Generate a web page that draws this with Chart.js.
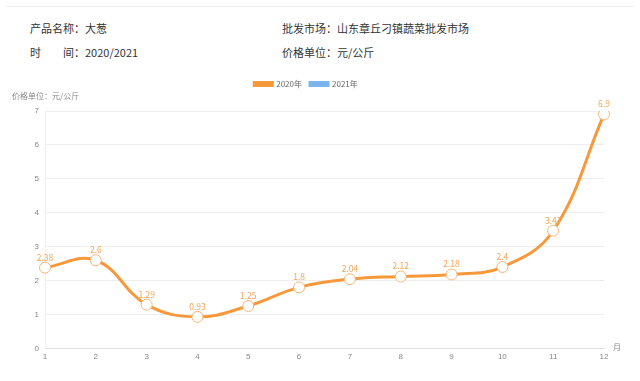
<!DOCTYPE html>
<html>
<head>
<meta charset="utf-8">
<script src="https://cdn.jsdelivr.net/npm/chart.js@4"></script>
<style>
  body { margin: 0; background: #fff; font-family: "Noto Sans CJK SC", "Noto Sans", sans-serif; }
  #page { position: relative; width: 640px; height: 381px; overflow: hidden; }
  .topline { position: absolute; left: 6px; right: 6px; top: 6px; height: 1px; background: #f0f0f0; }
  .info { position: absolute; font-size: 11px; color: #333; }
  #wrap { position: absolute; left: 0; top: 72px; width: 640px; height: 305px; }
</style>
</head>
<body>
<div id="page">
  <div class="topline"></div>
  <div class="info" style="left:30px; top:20px;">产品名称：大葱</div>
  <div class="info" style="left:282px; top:20px;">批发市场：山东章丘刁镇蔬菜批发市场</div>
  <div class="info" style="left:30px; top:44px;">时&emsp;&emsp;间：2020/2021</div>
  <div class="info" style="left:282px; top:44px;">价格单位：元/公斤</div>
  <div id="wrap"><canvas id="priceChart"></canvas></div>
</div>
<script>
const months = ["1", "2", "3", "4", "5", "6", "7", "8", "9", "10", "11", "12"];
const prices2020 = [2.38, 2.6, 1.29, 0.93, 1.25, 1.8, 2.04, 2.12, 2.18, 2.4, 3.47, 6.9];
const prices2021 = [];

// extra room under the legend so the plot starts lower
const legendGap = {
  id: "legendGap",
  beforeInit(chart) {
    const fit = chart.legend.fit;
    chart.legend.fit = function () {
      fit.bind(chart.legend)();
      this.height += 13;
    };
  },
};

// draws the value above each point, plus the axis captions
const extrasPlugin = {
  id: "extras",
  afterDatasetsDraw(chart) {
    const ctx = chart.ctx;
    const meta = chart.getDatasetMeta(0);
    ctx.save();
    ctx.font = "8.5px 'Noto Sans CJK SC', sans-serif";
    ctx.fillStyle = "#f5a455";
    ctx.textAlign = "center";
    ctx.textBaseline = "bottom";
    meta.data.forEach((pt, i) => {
      ctx.fillText(String(prices2020[i]), pt.x, pt.y - 6);
    });
    ctx.font = "8px 'Noto Sans CJK SC', sans-serif";
    ctx.fillStyle = "#888";
    ctx.textAlign = "left";
    ctx.textBaseline = "middle";
    ctx.fillText("价格单位：元/公斤", 12, 24);
    ctx.fillText("月", 613, chart.chartArea.bottom - 1);
    ctx.restore();
  },
};

const ctx = document.getElementById("priceChart").getContext("2d");
new Chart(ctx, {
  type: "line",
  data: {
    labels: months,
    datasets: [
      {
        label: "2020年",
        data: prices2020,
        borderColor: "#f7993b",
        backgroundColor: "#f7993b",
        borderWidth: 3,
        tension: 0.4,
        pointRadius: 5.5,
        pointBackgroundColor: "#fff",
        pointBorderColor: "#f5b578",
        pointBorderWidth: 1,
      },
      {
        label: "2021年",
        data: prices2021,
        borderColor: "#7cb5ec",
        backgroundColor: "#7cb5ec",
        borderWidth: 3,
      },
    ],
  },
  options: {
    animation: false,
    responsive: true,
    maintainAspectRatio: false,
    layout: { padding: { left: 8, right: 36, top: 0, bottom: 11 } },
    plugins: {
      tooltip: { enabled: false },
      legend: {
        labels: {
          boxWidth: 18,
          boxHeight: 3,
          color: "#666",
          font: { size: 8, family: "'Noto Sans CJK SC', sans-serif" },
          padding: 8,
        },
      },
    },
    scales: {
      x: {
        offset: false,
        grid: { display: false, drawTicks: false },
        border: { color: "#e0e0e0" },
        ticks: { color: "#888", font: { size: 8 }, padding: 4, maxRotation: 0 },
      },
      y: {
        min: 0,
        max: 7,
        grid: { color: "#eeeeee", drawTicks: false },
        border: { display: true, color: "#f0f0f0" },
        ticks: { stepSize: 1, color: "#888", font: { size: 8 }, padding: 6 },
        afterFit(scale) { scale.width = 37; },
      },
    },
  },
  plugins: [legendGap, extrasPlugin],
});
</script>
</body>
</html>
